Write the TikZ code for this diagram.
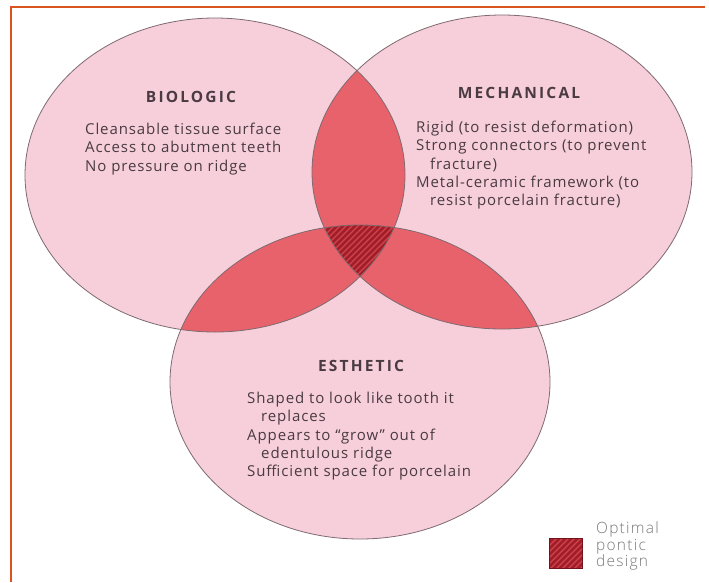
\documentclass[tikz,border=0pt]{standalone}
\usepackage{fontspec}
\setmainfont{Open Sans}[LetterSpace=6]
\newfontfamily\headfont{Open Sans}[LetterSpace=14]
\newfontfamily\legendfont{Open Sans Light}[LetterSpace=8]
\begin{document}
\definecolor{framecol}{HTML}{D9541E}
\definecolor{pinkfill}{HTML}{F6CFDB}
\definecolor{dblfill}{HTML}{E8626B}
\definecolor{trifill}{HTML}{A11D27}
\definecolor{stripecol}{HTML}{CF444E}
\definecolor{outlinecol}{HTML}{7E6A70}
\definecolor{textcol}{HTML}{4A3A42}
\definecolor{legendcol}{HTML}{7A7A7A}
\tikzset{
  frameline/.style={draw=framecol, line width=2pt},
  setfill/.style={fill=pinkfill},
  dblregion/.style={fill=dblfill},
  triregion/.style={fill=trifill},
  stripe/.style={draw=stripecol, line width=1.1pt},
  setoutline/.style={draw=outlinecol, line width=0.8pt},
  head/.style={font=\headfont\bfseries\fontsize{15.5}{17}\selectfont, text=textcol, inner sep=0pt},
  bodytext/.style={font=\fontsize{15}{18.3}\selectfont, text=textcol, align=left, inner sep=0pt, anchor=north west},
  legendtext/.style={font=\legendfont\fontsize{15.5}{16.3}\selectfont, text=legendcol, align=left, inner sep=0pt, anchor=north west}
}
\def\bio{(215,175) ellipse [x radius=190pt, y radius=157pt]}
\def\mech{(502,172) ellipse [x radius=190pt, y radius=157pt]}
\def\esth{(360,382) ellipse [x radius=190pt, y radius=157pt]}
\begin{tikzpicture}[x=1pt,y=-1pt]
\useasboundingbox (0,0) rectangle (709,582);
\fill[white] (0,0) rectangle (709,582);
\draw[frameline] (11,582) -- (11,7) -- (705,7);
% sets
\fill[setfill] \bio;
\fill[setfill] \mech;
\fill[setfill] \esth;
% pairwise overlaps
\begin{scope}
  \clip \bio;
  \fill[dblregion] \mech;
  \fill[dblregion] \esth;
\end{scope}
\begin{scope}
  \clip \mech;
  \fill[dblregion] \esth;
\end{scope}
% triple overlap
\begin{scope}
  \clip \bio;
  \clip \mech;
  \fill[triregion] \esth;
  \clip \esth;
  \foreach \i in {150,156,...,500}
    \draw[stripe] (\i,320) -- ++(160,-160);
\end{scope}
% outlines
\draw[setoutline] \bio;
\draw[setoutline] \mech;
\draw[setoutline] \esth;
% texts
\node[head] (bioh) at (191,97) {BIOLOGIC};
\node[bodytext] (biot) at (85,123) {Cleansable tissue surface\\Access to abutment teeth\\No pressure on ridge};
\node[head] (mechh) at (519,93) {MECHANICAL};
\node[bodytext] (mecht) at (416,121) {Rigid (to resist deformation)\\Strong connectors (to prevent\\\hspace*{14pt}fracture)\\Metal-ceramic framework (to\\\hspace*{14pt}resist porcelain fracture)};
\node[head] (esthh) at (361,366) {ESTHETIC};
\node[bodytext] (estht) at (247,392) {Shaped to look like tooth it\\\hspace*{14pt}replaces\\Appears to ``grow'' out of\\\hspace*{14pt}edentulous ridge\\Sufficient space for porcelain};
% legend
\begin{scope}
  \clip (549,538) rectangle (582,568);
  \fill[triregion] (549,538) rectangle (582,568);
  \foreach \i in {520,526,...,600}
    \draw[stripe] (\i,575) -- ++(45,-45);
\end{scope}
\draw[draw=trifill!70!black, line width=0.6pt] (549,538) rectangle (582,568) node[pos=0.5, inner sep=0pt] (legbox) {};
\node[legendtext] (legt) at (596,522) {Optimal\\pontic\\design};
\end{tikzpicture}
\end{document}
